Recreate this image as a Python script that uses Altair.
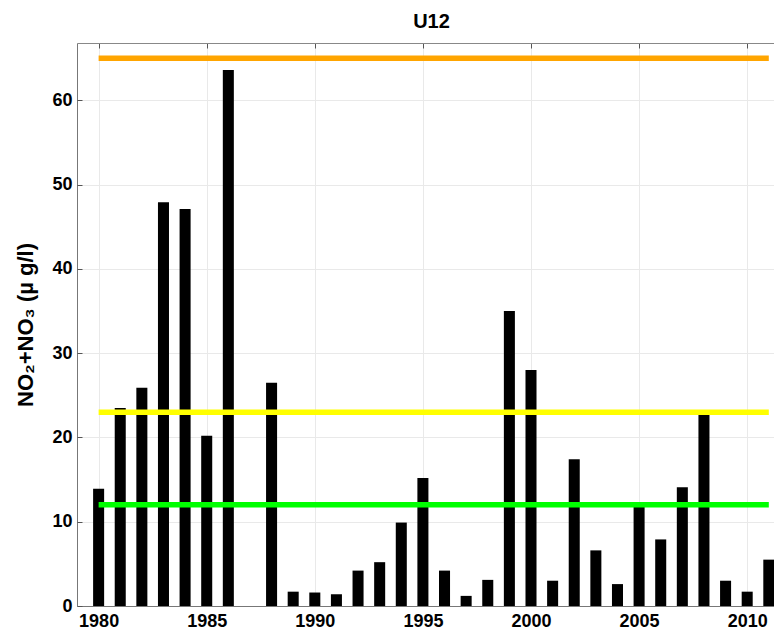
import altair as alt
import pandas as pd

# ---- data ----
years = [1980, 1981, 1982, 1983, 1984, 1985, 1986, 1988, 1989, 1990, 1991,
         1992, 1993, 1994, 1995, 1996, 1997, 1998, 1999, 2000, 2001, 2002,
         2003, 2004, 2005, 2006, 2007, 2008, 2009, 2010, 2011]
values = [13.9, 23.5, 25.9, 47.9, 47.1, 20.2, 63.6, 26.5, 1.7, 1.6, 1.4,
          4.2, 5.2, 9.9, 15.2, 4.2, 1.2, 3.1, 35.0, 28.0, 3.0, 17.4,
          6.6, 2.6, 11.8, 7.9, 14.1, 22.8, 3.0, 1.7, 5.5]

levels = [65, 23, 12]
level_colors = ["#FFA500", "#FFFF00", "#00FF00"]
level_start = [1980, 1980, 1980]
level_end = [2011, 2011, 2011]

x_ticks = [1980, 1985, 1990, 1995, 2000, 2005, 2010]
y_ticks = [0, 10, 20, 30, 40, 50, 60]

bars_df = pd.DataFrame({"year": years, "value": values})
lines_df = pd.DataFrame({"level": levels, "color": level_colors,
                         "x0": level_start, "x1": level_end})

FONT = "Liberation Sans"
xscale = alt.Scale(domain=[1979, 2011.24], nice=False, zero=False)
yscale = alt.Scale(domain=[0, 66.8], nice=False)

bars = alt.Chart(bars_df).transform_calculate(
    x0="datum.year - 0.255", x1="datum.year + 0.255"
).mark_bar(color="black").encode(
    x=alt.X("x0:Q", scale=xscale, axis=alt.Axis(
        orient="bottom", values=x_ticks, format="d", title=None,
        labelFont=FONT, labelFontSize=18, labelFontWeight="bold",
        labelColor="black", labelPadding=6, ticks=False,
        domain=True, domainColor="#777777", grid=True, gridColor="#e9e9e9")),
    x2="x1:Q",
    y=alt.Y("value:Q", scale=yscale, axis=alt.Axis(
        orient="left", values=y_ticks, title="NO₂+NO₃ (µ g/l)",
        titleFont=FONT, titleFontSize=22, titleFontWeight="bold",
        titleColor="black", titlePadding=14,
        labelFont=FONT, labelFontSize=18, labelFontWeight="bold",
        labelColor="black", labelPadding=5, ticks=False,
        domain=True, domainColor="#777777", grid=True, gridColor="#e9e9e9")),
    y2=alt.datum(0),
)

lines = alt.Chart(lines_df).mark_rule(strokeWidth=5.5).encode(
    x=alt.X("x0:Q", scale=xscale, axis=alt.Axis(
        orient="top", values=x_ticks, offset=-5, tickSize=5, ticks=True,
        tickColor="#555555", labels=False, domain=False, grid=False, title=None)),
    x2="x1:Q",
    y=alt.Y("level:Q", scale=yscale, axis=alt.Axis(
        orient="left", values=y_ticks, offset=-5, tickSize=5, ticks=True,
        tickColor="#555555", labels=False, domain=False, grid=False, title=None)),
    color=alt.Color("color:N", scale=None),
)

frame = alt.Chart(lines_df).mark_rule(opacity=0).encode(
    x=alt.X("x0:Q", scale=xscale, axis=alt.Axis(
        orient="top", ticks=False, labels=False, domain=True,
        domainColor="#888888", grid=False, title=None)),
    y=alt.Y("level:Q", scale=yscale, axis=None),
)

chart = alt.layer(bars, lines, frame).resolve_axis(
    x="independent", y="independent"
).properties(
    width=697, height=563,
    title=alt.TitleParams("U12", font=FONT, fontSize=20, fontWeight="bold",
                          color="black", offset=11, dx=6),
    autosize=alt.AutoSizeParams(type="none"),
    padding={"left": 69, "top": 35, "right": 0, "bottom": 24},
).configure_view(stroke=None)

chart.save("out.html", embed_options={"renderer": "svg", "actions": False})
